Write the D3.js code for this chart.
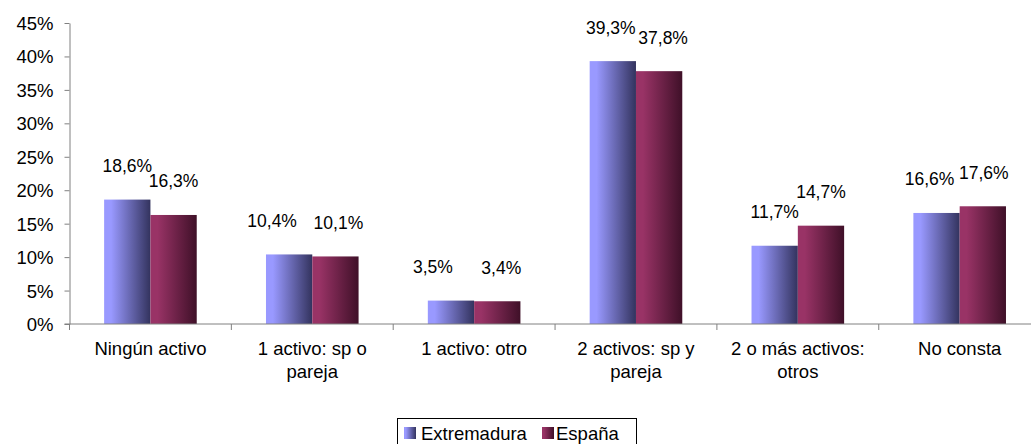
<!DOCTYPE html>
<html><head><meta charset="utf-8">
<script src="https://cdn.jsdelivr.net/npm/d3@7"></script>
<style>
html,body{margin:0;padding:0;background:#fff;overflow:hidden}
text{font-family:"Liberation Sans",Arial,sans-serif;fill:#000}
</style></head><body>
<svg id="c" width="1031" height="444"></svg>
<script>
const categories = [["Ningún activo"],["1 activo: sp o","pareja"],["1 activo: otro"],["2 activos: sp y","pareja"],["2 o más activos:","otros"],["No consta"]];
const seriesNames = ["Extremadura","España"];
const extremadura = [18.6,10.4,3.5,39.3,11.7,16.6];
const espana = [16.3,10.1,3.4,37.8,14.7,17.6];
const yTicks = [0,5,10,15,20,25,30,35,40,45];
const labelsExt = ["18,6%","10,4%","3,5%","39,3%","11,7%","16,6%"];
const labelsEsp = ["16,3%","10,1%","3,4%","37,8%","14,7%","17,6%"];

(function(){
const svg = d3.select("#c");
const pLeft = 69.5, pRight = 69.5 + 6*161.85, pTop = 23, pBottom = 324;
const x = d3.scaleBand().domain(d3.range(6)).range([pLeft,pRight]).paddingInner(0).paddingOuter(0);
const y = d3.scaleLinear().domain([0,45]).range([pBottom,pTop]);
const bw = 46.3;
// small label nudges (layout only) to mimic original label placement
const labelDx = [[0,-17,-18,-2,0,-7],[0,3,4,4,0,1]];

const defs = svg.append("defs");
function grad(id, c1, c2){
  const g = defs.append("linearGradient").attr("id",id).attr("x1","0").attr("x2","1").attr("y1","0").attr("y2","0");
  g.append("stop").attr("offset","0").attr("stop-color",c1);
  g.append("stop").attr("offset","0.15").attr("stop-color",c1);
  g.append("stop").attr("offset","1").attr("stop-color",c2);
}
grad("gExt","#9999ff","#33335e");
grad("gEsp","#993366","#3f1028");

const ya = svg.append("g").attr("transform",`translate(${pLeft},0)`)
  .call(d3.axisLeft(y).tickValues(yTicks).tickFormat(d=>d+"%").tickSize(5).tickSizeOuter(0));
ya.select(".domain").attr("stroke","#808080");
ya.selectAll(".tick line").attr("stroke","#808080");
ya.selectAll(".tick text").attr("font-size","18.5px").attr("x",-16).attr("dy","0.35em").style("font-family",'"Liberation Sans",Arial,sans-serif').attr("fill","#000");

const data = [extremadura, espana];
const grads = ["url(#gExt)","url(#gEsp)"];
const labels = [labelsExt, labelsEsp];
data.forEach((vals,si)=>{
  svg.append("g").selectAll("rect").data(vals).join("rect")
    .attr("x",(d,i)=>x(i)+x.bandwidth()/2 - bw + si*bw)
    .attr("y",d=>y(d)).attr("width",bw).attr("height",d=>pBottom-y(d))
    .attr("fill",grads[si]);
  svg.append("g").selectAll("text").data(vals).join("text")
    .attr("x",(d,i)=>x(i)+x.bandwidth()/2 - bw/2 + si*bw + labelDx[si][i])
    .attr("y",d=>y(d)-27.5)
    .attr("text-anchor","middle").attr("font-size","17.5px")
    .text((d,i)=>labels[si][i]);
});

const xa = svg.append("g").attr("transform",`translate(0,${pBottom})`);
xa.append("line").attr("x1",pLeft-5).attr("x2",pRight).attr("stroke","#808080");
d3.range(7).forEach(i=>{
  const xx = i<6 ? x(i) : pRight;
  xa.append("line").attr("x1",xx).attr("x2",xx).attr("y1",0).attr("y2",6).attr("stroke","#808080");
});
categories.forEach((lines,i)=>{
  const t = xa.append("text").attr("text-anchor","middle").attr("font-size","18.5px")
    .attr("x",x(i)+x.bandwidth()/2).attr("y",31);
  lines.forEach((l,j)=>t.append("tspan").attr("x",x(i)+x.bandwidth()/2).attr("dy",j?23:0).text(l));
});

const lg = svg.append("g");
lg.append("rect").attr("x",397.5).attr("y",418.5).attr("width",239).attr("height",30).attr("fill","#fff").attr("stroke","#000");
const items = [[404,421,"gExt"],[542,556,"gEsp"]];
items.forEach((it,k)=>{
  lg.append("rect").attr("x",it[0]).attr("y",427).attr("width",12).attr("height",12).attr("fill",`url(#${it[2]})`);
  lg.append("text").attr("x",it[1]).attr("y",440).attr("font-size","18.5px").text(seriesNames[k]);
});
})();
</script></body></html>
